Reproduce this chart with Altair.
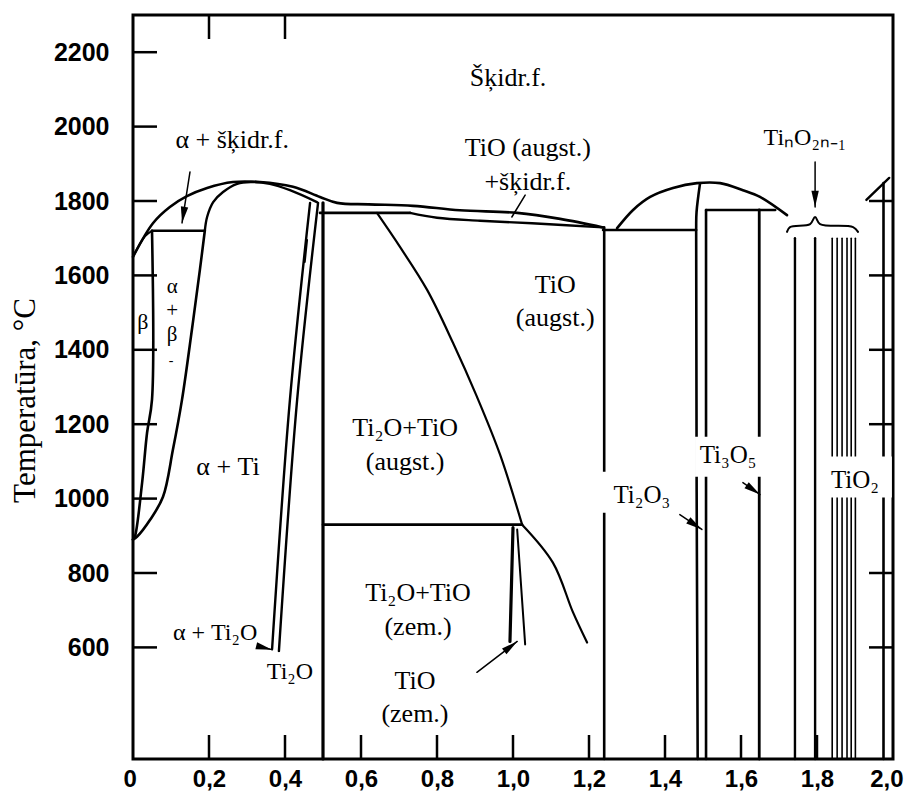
import math
import altair as alt
import pandas as pd

# ---------------- axis values ----------------
x_tick_values = [0.0, 0.2, 0.4, 0.6, 0.8, 1.0, 1.2, 1.4, 1.6, 1.8, 2.0]
t_tick_values = [600, 800, 1000, 1200, 1400, 1600, 1800, 2000, 2200]
bottom_ticks = [0.2, 0.4, 0.6, 0.8, 1.0, 1.2, 1.4, 1.6, 1.8]
top_ticks = [0.2, 0.4]
left_ticks = [600, 800, 1000, 1200, 1400, 1600, 1800, 2000, 2200]
right_ticks = [600, 800, 1200, 1400, 1600, 1800]

# ---------------- phase boundaries (x = O/Ti, T in °C) ----------------
liquidus_x = [0.0, 0.053, 0.097, 0.142, 0.195, 0.263, 0.334, 0.421, 0.492, 0.537, 0.62, 0.737, 0.86, 1.011, 1.124, 1.237]
liquidus_t = [1650, 1741, 1784, 1813, 1835, 1851, 1851, 1838, 1811, 1795, 1791, 1787, 1775, 1768, 1752, 1729]

alpha_solidus_x = [0.189, 0.195, 0.211, 0.237, 0.274, 0.31, 0.36, 0.413, 0.484]
alpha_solidus_t = [1720, 1757, 1797, 1824, 1846, 1851, 1846, 1829, 1797]

beta_solidus_x = [0.0, 0.032, 0.05]
beta_solidus_t = [1650, 1706, 1720]

peritectic_1720_x = [0.05, 0.189]
peritectic_1720_t = [1720, 1720]

beta_transus_x = [0.05, 0.05, 0.037, 0.024, 0.005, 0.0]
beta_transus_t = [1720, 1266, 1177, 1043, 898, 890]

alpha_boundary_x = [0.189, 0.176, 0.155, 0.129, 0.105, 0.079, 0.045, 0.011, 0.0]
alpha_boundary_t = [1720, 1615, 1454, 1266, 1131, 1005, 943, 898, 890]

ti2o_left_x = [0.466, 0.413, 0.366]
ti2o_left_t = [1795, 1266, 595]
ti2o_right_x = [0.487, 0.432, 0.384]
ti2o_right_t = [1795, 1266, 590]
ti2o_inner_x = [0.458, 0.452]
ti2o_inner_t = [1695, 1636]

half_line_x = [0.5, 0.5]
half_line_t = [1795, 300]

peritectic_1768_x = [0.492, 0.729]
peritectic_1768_t = [1768, 1768]

tio_solidus_x = [0.729, 0.80, 0.913, 1.05, 1.237]
tio_solidus_t = [1768, 1755, 1747, 1740, 1729]

tio_solvus_hi_x = [0.642, 0.703, 0.774, 0.842, 0.905, 0.966, 1.024]
tio_solvus_hi_t = [1768, 1676, 1561, 1419, 1274, 1118, 930]
tio_solvus_lo_x = [1.024, 1.105, 1.158, 1.195]
tio_solvus_lo_t = [930, 828, 694, 613]

eutectoid_930_x = [0.5, 1.024]
eutectoid_930_t = [930, 930]

tio_low_a_x = [1.0, 0.992]
tio_low_a_t = [922, 616]
tio_low_b_x = [1.011, 1.032]
tio_low_b_t = [917, 608]

line_124_x = [1.24, 1.24]
line_124_t = [1729, 300]

eutectic_1722_x = [1.237, 1.482]
eutectic_1722_t = [1722, 1722]

ti2o3_dome_x = [1.274, 1.316, 1.361, 1.421, 1.484, 1.545, 1.605, 1.65, 1.721]
ti2o3_dome_t = [1727, 1776, 1811, 1835, 1848, 1848, 1829, 1811, 1762]

ti2o3_left_x = [1.492, 1.483, 1.482, 1.486]
ti2o3_left_t = [1846, 1770, 1722, 300]
ti2o3_right_x = [1.508, 1.508]
ti2o3_right_t = [1776, 300]

peritectic_1776_x = [1.508, 1.69]
peritectic_1776_t = [1776, 1776]

ti3o5_x = [1.648, 1.648]
ti3o5_t = [1776, 300]

magneli_x = [1.742, 1.795]
magneli_thin_x = [1.84, 1.853, 1.866, 1.879, 1.89, 1.901]
magneli_top_t = 1700

brace_x = [1.721, 1.729, 1.782, 1.795, 1.808, 1.895, 1.908]
brace_t = [1717, 1730, 1738, 1757, 1738, 1730, 1717]

tio2_x = [1.975, 1.975]
tio2_t = [1848, 300]
tio2_liquidus_x = [1.93, 1.99]
tio2_liquidus_t = [1803, 1862]

# arrows: (x0, t0, x1, t1, has_head)
arrows = [
    (0.150, 1878, 0.129, 1741, True),
    (1.032, 1816, 0.997, 1757, False),
    (1.795, 1905, 1.795, 1784, True),
    (1.439, 957, 1.497, 917, True),
    (1.605, 1043, 1.650, 1011, True),
    (0.905, 533, 1.011, 616, True),
    (0.334, 602, 0.366, 594, True),
]

# labels
label_text = ["Šķidr.f.", "α + šķidr.f.", "TiO (augst.)", "+šķidr.f.", "TiₙO₂ₙ₋₁",
              "β", "α", "+", "β", "-", "α + Ti", "α + Ti₂O", "Ti₂O",
              "Ti₂O+TiO", "(augst.)", "TiO", "(augst.)",
              "Ti₂O+TiO", "(zem.)", "TiO", "(zem.)",
              "Ti₂O₃", "Ti₃O₅", "TiO₂"]
label_x = [0.987, 0.261, 1.039, 1.039, 1.768,
           0.026, 0.103, 0.103, 0.103, 0.100, 0.25, 0.216, 0.413,
           0.716, 0.716, 1.111, 1.111,
           0.75, 0.75, 0.742, 0.742,
           1.339, 1.566, 1.9]
label_t = [2130, 1964, 1942, 1851, 1969,
           1475, 1569, 1505, 1440, 1370, 1086, 640, 533,
           1190, 1099, 1574, 1486,
           747, 656, 509, 420,
           1011, 1118, 1051]
label_size = [26, 26, 26, 26, 24,
              22, 21, 21, 21, 14, 26, 24, 24,
              26, 26, 26, 26,
              26, 26, 26, 26,
              25, 25, 25]

# white label backgrounds (x1, x2, t1, t2)
boxes = [
    (0.334, 0.492, 479, 586),
    (1.232, 1.439, 962, 1072),
    (1.479, 1.655, 1059, 1166),
    (1.80, 1.997, 1003, 1113),
]

# ---------------- geometry ----------------
W, H = 760, 744
X_DOM = [0, 2]
T_DOM = [300, 2300]
PX_X = W / (X_DOM[1] - X_DOM[0])
PX_T = H / (T_DOM[1] - T_DOM[0])
TICK_PX = 24

curves = [
    ("liquidus", liquidus_x, liquidus_t, 2.6),
    ("alpha_sol", alpha_solidus_x, alpha_solidus_t, 2.4),
    ("beta_sol", beta_solidus_x, beta_solidus_t, 2.0),
    ("per1720", peritectic_1720_x, peritectic_1720_t, 2.6),
    ("beta_tr", beta_transus_x, beta_transus_t, 2.6),
    ("alpha_b", alpha_boundary_x, alpha_boundary_t, 2.6),
    ("ti2o_l", ti2o_left_x, ti2o_left_t, 2.4),
    ("ti2o_r", ti2o_right_x, ti2o_right_t, 2.4),
    ("ti2o_i", ti2o_inner_x, ti2o_inner_t, 2.0),
    ("half", half_line_x, half_line_t, 3.2),
    ("per1768", peritectic_1768_x, peritectic_1768_t, 2.6),
    ("tio_sol", tio_solidus_x, tio_solidus_t, 2.4),
    ("solv_hi", tio_solvus_hi_x, tio_solvus_hi_t, 2.2),
    ("solv_lo", tio_solvus_lo_x, tio_solvus_lo_t, 2.2),
    ("eut930", eutectoid_930_x, eutectoid_930_t, 2.6),
    ("tio_a", tio_low_a_x, tio_low_a_t, 3.2),
    ("tio_b", tio_low_b_x, tio_low_b_t, 2.0),
    ("l124", line_124_x, line_124_t, 2.6),
    ("eut1722", eutectic_1722_x, eutectic_1722_t, 2.6),
    ("dome", ti2o3_dome_x, ti2o3_dome_t, 2.6),
    ("ti2o3_l", ti2o3_left_x, ti2o3_left_t, 2.6),
    ("ti2o3_r", ti2o3_right_x, ti2o3_right_t, 2.6),
    ("per1776", peritectic_1776_x, peritectic_1776_t, 2.6),
    ("ti3o5", ti3o5_x, ti3o5_t, 2.8),
    ("brace", brace_x, brace_t, 2.0),
    ("tio2", tio2_x, tio2_t, 2.6),
    ("tio2_liq", tio2_liquidus_x, tio2_liquidus_t, 2.4),
]
for i, mx in enumerate(magneli_x):
    curves.append((f"mag{i}", [mx, mx], [magneli_top_t, T_DOM[0]], 2.4))
for i, mx in enumerate(magneli_thin_x):
    curves.append((f"magt{i}", [mx, mx], [magneli_top_t, T_DOM[0]], 1.6))
for i, (x0, t0, x1, t1, head) in enumerate(arrows):
    curves.append((f"arrow{i}", [x0, x1], [t0, t1], 1.5))

rows = []
for cid, xs, ts, w in curves:
    for k, (xv, tv) in enumerate(zip(xs, ts)):
        rows.append({"id": cid, "k": k, "x": xv, "t": tv, "w": w})
curve_df = pd.DataFrame(rows)

tick_rows = []
for v in bottom_ticks:
    tick_rows.append({"x": v, "x2": v, "t": T_DOM[0], "t2": T_DOM[0] + TICK_PX / PX_T})
for v in top_ticks:
    tick_rows.append({"x": v, "x2": v, "t": T_DOM[1], "t2": T_DOM[1] - TICK_PX / PX_T})
for v in left_ticks:
    tick_rows.append({"x": X_DOM[0], "x2": X_DOM[0] + TICK_PX / PX_X, "t": v, "t2": v})
for v in right_ticks:
    tick_rows.append({"x": X_DOM[1], "x2": X_DOM[1] - TICK_PX / PX_X, "t": v, "t2": v})
tick_df = pd.DataFrame(tick_rows)

head_rows = []
for x0, t0, x1, t1, head in arrows:
    if head:
        dx = (x1 - x0) * PX_X
        dy = -(t1 - t0) * PX_T
        ang = math.degrees(math.atan2(dx, -dy)) % 360
        head_rows.append({"x": x1, "t": t1, "a": ang})
head_df = pd.DataFrame(head_rows)

box_df = pd.DataFrame([{"x": b[0], "x2": b[1], "t": b[2], "t2": b[3]} for b in boxes])
label_df = pd.DataFrame({"text": label_text, "x": label_x, "t": label_t, "s": label_size})

x_scale = alt.Scale(domain=X_DOM, nice=False, zero=False)
t_scale = alt.Scale(domain=T_DOM, nice=False, zero=False)

x_axis = alt.Axis(
    values=x_tick_values,
    labelExpr="datum.value == 0 ? '0' : replace(format(datum.value, '.1f'), '.', ',')",
    ticks=False, domain=False, grid=False, title=None,
    labelFont="Liberation Sans", labelFontSize=24, labelFontWeight="bold",
    labelColor="black", labelPadding=8, labelFlush=True, labelFlushOffset=10,
    labelOverlap=False,
)
y_axis = alt.Axis(
    values=t_tick_values, format="d",
    ticks=False, domain=False, grid=False,
    labelFont="Liberation Sans", labelFontSize=25, labelFontWeight="bold",
    labelColor="black", labelPadding=24, labelOverlap=False,
    title="Temperatūra, °C", titleFont="Liberation Serif", titleFontSize=31,
    titleFontWeight="normal", titleColor="black", titleAngle=270,
    titleX=-99, titleY=385, titleAlign="center", titleBaseline="alphabetic",
)


def X(field="x"):
    return alt.X(f"{field}:Q", scale=x_scale, axis=x_axis)


def Y(field="t"):
    return alt.Y(f"{field}:Q", scale=t_scale, axis=y_axis)


lines = alt.Chart(curve_df).mark_line(
    color="black", interpolate="catmull-rom", strokeCap="round", strokeJoin="round"
).encode(
    x=X(), y=Y(),
    detail="id:N",
    order="k:Q",
    strokeWidth=alt.StrokeWidth("w:Q", scale=None),
)

ticks = alt.Chart(tick_df).mark_rule(color="black", strokeWidth=2.5).encode(
    x=X(), x2="x2:Q", y=Y(), y2="t2:Q",
)

bg = alt.Chart(box_df).mark_rect(fill="white").encode(
    x=X(), x2="x2:Q", y=Y(), y2="t2:Q",
)

heads = alt.Chart(head_df).mark_point(
    shape="M0,0L0.5,2.2L-0.5,2.2Z", filled=True, color="black", opacity=1, size=220, strokeWidth=0
).encode(
    x=X(), y=Y(),
    angle=alt.Angle("a:Q", scale=None),
)

labels = alt.Chart(label_df).mark_text(
    font="Liberation Serif", color="black", baseline="middle", align="center"
).encode(
    x=X(), y=Y(),
    text="text:N",
    size=alt.Size("s:Q", scale=None),
)

chart = alt.layer(lines, ticks, bg, heads, labels).properties(
    width=W, height=H,
    autosize=alt.AutoSizeParams(type="none"),
    padding={"left": 125, "top": 7, "right": 15, "bottom": 33},
    background="white",
).configure_view(stroke="black", strokeWidth=3)

chart.save("out.html", embed_options={"renderer": "svg", "actions": False})
